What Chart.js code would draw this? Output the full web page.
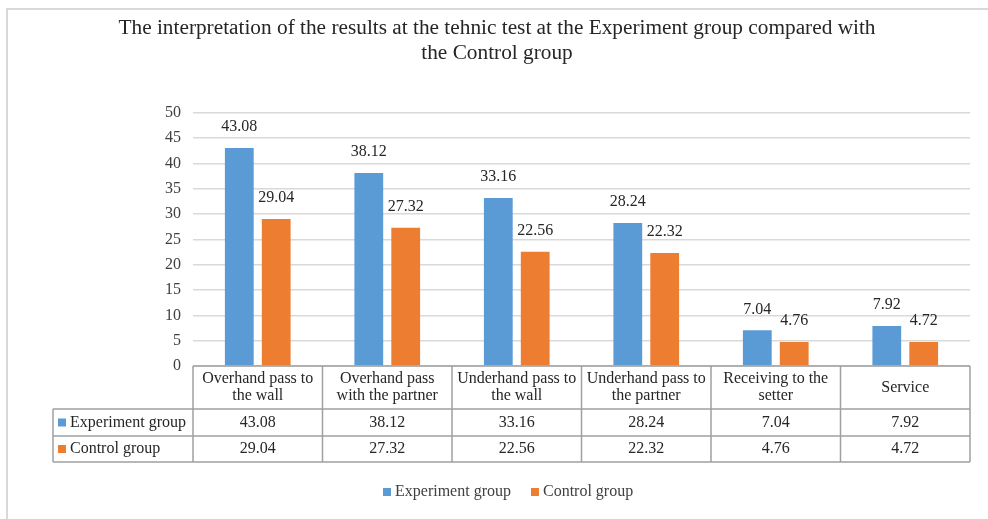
<!DOCTYPE html>
<html>
<head>
<meta charset="utf-8">
<script src="https://cdn.jsdelivr.net/npm/chart.js@4.4.1/dist/chart.umd.min.js"></script>
<style>
  html, body { margin: 0; padding: 0; background: #fff; }
  #wrap { position: relative; width: 988px; height: 519px; }
</style>
</head>
<body>
<div id="wrap"><canvas id="myChart" width="988" height="519"></canvas></div>
<script>
const categories = [
  ["Overhand pass to", "the wall"],
  ["Overhand pass", "with the partner"],
  ["Underhand pass to", "the wall"],
  ["Underhand pass to", "the partner"],
  ["Receiving to the", "setter"],
  ["Service"]
];
const seriesNames = ["Experiment group", "Control group"];
const experiment = [43.08, 38.12, 33.16, 28.24, 7.04, 7.92];
const control = [29.04, 27.32, 22.56, 22.32, 4.76, 4.72];
const yMin = 0;
const yMax = 50;
const yStep = 5;

const blue = '#5B9BD5';
const orange = '#ED7D31';
const serif = "'Liberation Serif', 'Times New Roman', serif";
const textColor = '#262626';

const ctx = document.getElementById('myChart');

// data labels above each bar
const barLabels = {
  id: 'barLabels',
  afterDatasetsDraw(chart) {
    const c = chart.ctx;
    c.save();
    c.font = '16px ' + serif;
    c.fillStyle = textColor;
    c.textAlign = 'center';
    c.textBaseline = 'middle';
    chart.data.datasets.forEach((ds, i) => {
      chart.getDatasetMeta(i).data.forEach((bar, j) => {
        c.fillText(ds.data[j].toFixed(2), bar.x, bar.y - 21);
      });
    });
    c.restore();
  }
};

// data table under the plot + bottom legend + outer frame
const dataTable = {
  id: 'dataTable',
  afterDraw(chart) {
    const c = chart.ctx;
    const area = chart.chartArea;
    const x = chart.scales.x;
    const colW = area.width / categories.length;
    const top = area.bottom;
    const rows = [top, top + 43, top + 70, top + 96];
    const left = 53;
    const series = [experiment, control];
    const colors = [blue, orange];

    c.save();
    // frame
    c.strokeStyle = '#d9d9d9';
    c.lineWidth = 2;
    c.beginPath();
    c.moveTo(7, 519);
    c.lineTo(7, 9);
    c.lineTo(988, 9);
    c.stroke();

    // grid of the table
    c.strokeStyle = '#a0a0a0';
    c.lineWidth = 1.5;
    c.beginPath();
    c.moveTo(area.left, rows[0]); c.lineTo(area.right, rows[0]);
    for (let r = 1; r < rows.length; r++) {
      c.moveTo(left, rows[r]); c.lineTo(area.right, rows[r]);
    }
    c.moveTo(left, rows[1]); c.lineTo(left, rows[3]);
    for (let i = 0; i <= categories.length; i++) {
      const px = area.left + i * colW;
      c.moveTo(px, rows[0]); c.lineTo(px, rows[3]);
    }
    c.stroke();

    c.font = '16px ' + serif;
    c.fillStyle = textColor;
    c.textAlign = 'center';
    c.textBaseline = 'middle';
    categories.forEach((lines, i) => {
      const cx = x.getPixelForValue(i);
      const mid = (rows[0] + rows[1]) / 2;
      lines.forEach((ln, k) => {
        c.fillText(ln, cx, mid + (k - (lines.length - 1) / 2) * 17.5);
      });
      series.forEach((vals, s) => {
        c.fillText(vals[i].toFixed(2), cx, (rows[s + 1] + rows[s + 2]) / 2);
      });
    });

    // row headers with colour keys
    c.textAlign = 'left';
    seriesNames.forEach((name, s) => {
      const cy = (rows[s + 1] + rows[s + 2]) / 2;
      c.fillStyle = colors[s];
      c.fillRect(58, cy - 4, 8, 8);
      c.fillStyle = textColor;
      c.fillText(name, 70, cy);
    });

    // bottom legend
    const gap = 20;
    let lx = 383;
    seriesNames.forEach((name, s) => {
      c.fillStyle = colors[s];
      c.fillRect(lx, 488, 8, 8);
      c.fillStyle = '#404040';
      c.fillText(name, lx + 12, 492);
      lx += 12 + c.measureText(name).width + gap;
    });
    c.restore();
  }
};

new Chart(ctx, {
  type: 'bar',
  data: {
    labels: categories,
    datasets: [
      { label: seriesNames[0], data: experiment, backgroundColor: blue,
        categoryPercentage: 0.57, barPercentage: 0.78 },
      { label: seriesNames[1], data: control, backgroundColor: orange,
        categoryPercentage: 0.57, barPercentage: 0.78 }
    ]
  },
  options: {
    responsive: false,
    animation: false,
    layout: { padding: { left: 24, right: 18, top: 0, bottom: 0 } },
    plugins: {
      legend: { display: false },
      tooltip: { enabled: false },
      title: {
        display: true,
        text: ["The interpretation of the results at the tehnic test at the Experiment group compared with",
               "the Control group"],
        color: '#262626',
        font: { family: serif, size: 21.3, weight: 'normal', lineHeight: 1.17 },
        padding: { top: 16, bottom: 47 }
      }
    },
    scales: {
      x: {
        ticks: { display: false },
        grid: { display: false },
        border: { display: false },
        afterFit: (scale) => { scale.height = 153; }
      },
      y: {
        min: yMin,
        max: yMax,
        ticks: { stepSize: yStep, padding: 12, color: '#404040', font: { family: serif, size: 16 } },
        grid: { color: '#d9d9d9', lineWidth: 1.5, drawTicks: false },
        border: { display: false },
        afterFit: (scale) => { scale.width = 169; }
      }
    }
  },
  plugins: [barLabels, dataTable]
});
</script>
</body>
</html>
